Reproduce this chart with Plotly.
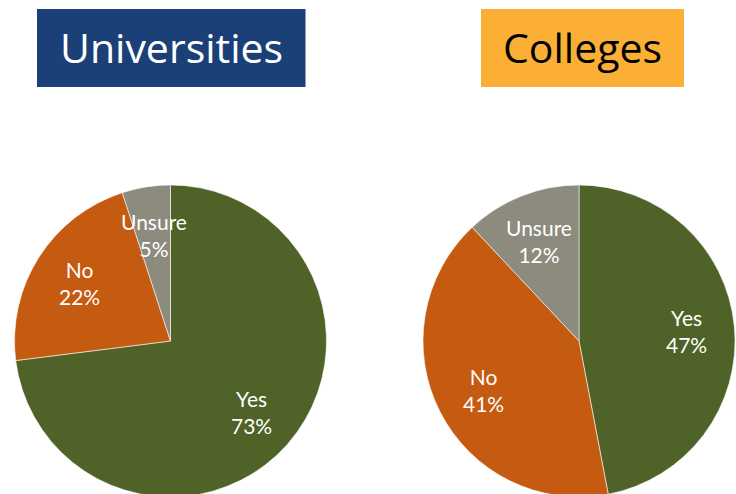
import math
import plotly.graph_objects as go

# Data
categories = ["Yes", "No", "Unsure"]
universities = [73, 22, 5]
colleges = [47, 41, 12]
titles = ["Universities", "Colleges"]

slice_colors = ["#4F6228", "#C55A11", "#8D8A7E"]
LABEL_FONT = "Lato"
TITLE_FONT = "Open Sans"

W, H = 736, 500
DOM_Y = [3 / H, 315 / H]
DOMAINS_X = [[14.3 / W, 326.7 / W], [423 / W, 735 / W]]
LABEL_R = 0.69  # label distance from centre as share of radius

fig = go.Figure()

def add_pie(values, dom_x, name):
    fig.add_trace(go.Pie(
        labels=categories, values=values, name=name,
        sort=False, direction="clockwise", rotation=0,
        marker=dict(colors=slice_colors, line=dict(color="rgba(255,255,255,0.7)", width=0.8)),
        textinfo="none",
        domain=dict(x=dom_x, y=DOM_Y),
        showlegend=False, hoverinfo="label+percent",
    ))
    # data labels placed on each slice's bisector
    cx = (dom_x[0] + dom_x[1]) / 2
    cy = (DOM_Y[0] + DOM_Y[1]) / 2
    r_px = min((dom_x[1] - dom_x[0]) * W, (DOM_Y[1] - DOM_Y[0]) * H) / 2
    total = sum(values)
    cum = 0
    for lab, v in zip(categories, values):
        mid = (cum + v / 2) / total * 2 * math.pi
        cum += v
        dx = LABEL_R * r_px * math.sin(mid)
        dy = LABEL_R * r_px * math.cos(mid)
        fig.add_annotation(
            text=f"{lab}<br>{round(v / total * 100)}%",
            xref="paper", yref="paper",
            x=cx + dx / W, y=cy + dy / H,
            xanchor="center", yanchor="middle", showarrow=False,
            font=dict(family=LABEL_FONT, size=21, color="white"),
        )

add_pie(universities, DOMAINS_X[0], titles[0])
add_pie(colleges, DOMAINS_X[1], titles[1])

# Title boxes
fig.add_shape(type="rect", xref="paper", yref="paper",
              x0=37 / W, x1=305.5 / W, y0=1 - 87 / H, y1=1 - 9 / H,
              fillcolor="#1B4077", line=dict(width=0), layer="below")
fig.add_shape(type="rect", xref="paper", yref="paper",
              x0=481 / W, x1=684 / W, y0=1 - 87 / H, y1=1 - 9 / H,
              fillcolor="#FBB035", line=dict(width=0), layer="below")

fig.add_annotation(text=titles[0], xref="paper", yref="paper",
                   x=(37 + 305.5) / 2 / W, y=1 - 47 / H, xanchor="center", yanchor="middle",
                   showarrow=False, font=dict(family=TITLE_FONT, size=41, color="white"))
fig.add_annotation(text=titles[1], xref="paper", yref="paper",
                   x=(481 + 684) / 2 / W, y=1 - 47 / H, xanchor="center", yanchor="middle",
                   showarrow=False, font=dict(family=TITLE_FONT, size=41, color="black"))

fig.update_layout(
    width=W, height=H,
    margin=dict(l=0, r=0, t=0, b=0),
    paper_bgcolor="white", plot_bgcolor="white",
)

fig.write_html(
    "out.html",
    config={"displayModeBar": False},
    post_script="document.body.style.margin='0';document.body.style.overflow='hidden';document.documentElement.style.overflow='hidden';",
)
